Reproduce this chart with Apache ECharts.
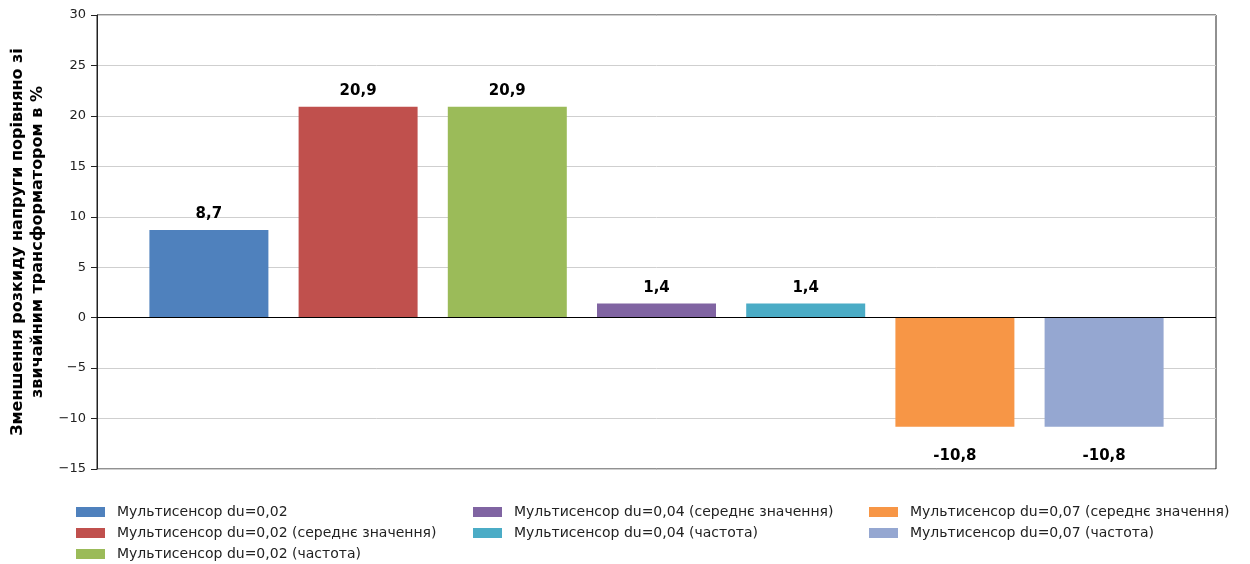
<!DOCTYPE html>
<html>
<head>
<meta charset="utf-8">
<script src="https://cdn.jsdelivr.net/npm/echarts@6/dist/echarts.min.js"></script>
<style>
  html, body { margin: 0; padding: 0; background: #fff; }
  #chart { width: 1250px; height: 564px; }
</style>
</head>
<body>
<div id="chart"></div>
<script>
// series names, values and colours
const names = [
  'Мультисенсор du=0,02',
  'Мультисенсор du=0,02 (середнє значення)',
  'Мультисенсор du=0,02 (частота)',
  'Мультисенсор du=0,04 (середнє значення)',
  'Мультисенсор du=0,04 (частота)',
  'Мультисенсор du=0,07 (середнє значення)',
  'Мультисенсор du=0,07 (частота)'
];
const values = [8.7, 20.9, 20.9, 1.4, 1.4, -10.8, -10.8];
const colors = ['#4f81bd', '#c0504d', '#9bbb59', '#8064a2', '#4bacc6', '#f79646', '#95a7d1'];
const yTicks = [-15, -10, -5, 0, 5, 10, 15, 20, 25, 30];

const font = 'DejaVu Sans';
const chart = echarts.init(document.getElementById('chart'));

let series = names.map(function(n, i){
    return {
        name: n,
        type: 'bar',
        barWidth: 119,
        barGap: '-100%',
        itemStyle: { color: colors[i] },
        data: [[i, values[i]]],
        label: {
            show: true,
            position: values[i] >= 0 ? 'top' : 'bottom',
            distance: values[i] >= 0 ? 8 : 22,
            fontFamily: font,
            fontWeight: 'bold',
            fontSize: 15,
            color: '#000',
            formatter: function(p){ return String(p.value[1]).replace('.', ','); }
        }
    };
});
// zero line
series[0].markLine = {
    silent: true,
    symbol: 'none',
    label: { show: false },
    lineStyle: { color: '#000', type: 'solid', width: 1.2 },
    data: [{ yAxis: 0 }]
};

function legend(left, items){
    return {
        orient: 'vertical',
        left: left,
        top: 505,
        height: 70,
        padding: 0,
        itemWidth: 29,
        itemHeight: 10,
        itemGap: 7,
        icon: 'rect',
        data: items,
        textStyle: { fontFamily: font, fontSize: 14, color: '#222', padding: [0, 0, 0, 7] }
    };
}

chart.setOption({
    animation: false,
    grid: {
        left: 97, right: 34, top: 15, bottom: 95,
        outerBoundsMode: 'none',
        containLabel: false,
        show: true, borderColor: '#222', borderWidth: 1
    },
    legend: [
        legend(76, names.slice(0, 3)),
        legend(473, names.slice(3, 5)),
        legend(869, names.slice(5, 7))
    ],
    xAxis: {
        type: 'value',
        min: -0.75,
        max: 6.75,
        show: false
    },
    yAxis: {
        type: 'value',
        min: yTicks[0],
        max: yTicks[yTicks.length - 1],
        interval: 5,
        name: 'Зменшення розкиду напруги порівняно зі\nзвичайним трансформатором в %',
        nameLocation: 'middle',
        nameGap: 46,
        nameTextStyle: { fontFamily: font, fontSize: 16, fontWeight: 'bold', color: '#000', lineHeight: 20 },
        axisLine: { show: true, onZero: false, lineStyle: { color: '#222' } },
        axisTick: { show: true, length: 6, lineStyle: { color: '#222' } },
        axisLabel: {
            fontFamily: font, fontSize: 13, color: '#222', margin: 11,
            formatter: function(v){ return v < 0 ? '\u2212' + Math.abs(v) : String(v); }
        },
        splitLine: { show: true, lineStyle: { color: '#cfcfcf', width: 1 } }
    },
    series: series
});
</script>
</body>
</html>
